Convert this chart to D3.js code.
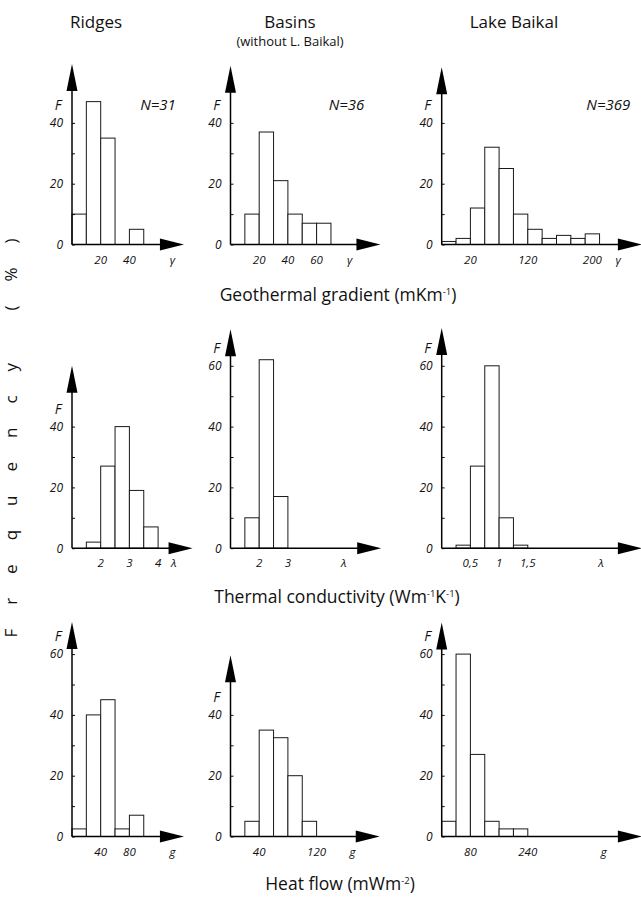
<!DOCTYPE html>
<html>
<head>
<meta charset="utf-8">
<script src="https://cdn.jsdelivr.net/npm/d3@7/dist/d3.min.js"></script>
<style>
  body { margin: 0; background: #fff; }
  svg { display: block; }
  text { font-family: "Open Sans", sans-serif; fill: #111; }
  .it { font-style: italic; }
</style>
</head>
<body>
<svg id="chart" width="641" height="897"></svg>
<script>
// ---- data (frequency, % per bin; bins counted from the axis origin) ----
const columnTitles = ["Ridges", "Basins", "Lake Baikal"];
const basinsNote = "(without L. Baikal)";
const sampleSizes = ["N=31", "N=36", "N=369"];
const rowNames = ["Geothermal gradient", "Thermal conductivity", "Heat flow"];
const rowUnits = [
  [["(mKm"], ["-1", 1], [")"]],
  [["(Wm"], ["-1", 1], ["K"], ["-1", 1], [")"]],
  [["(mWm"], ["-2", 1], [")"]]
];
const rowSymbols = ["γ", "λ", "g"];
const yLabel = "Frequency (%)";

const gradRidges = [10, 47, 35, 0, 5];
const gradBasins = [0, 10, 37, 21, 10, 7, 7];
const gradBaikal = [1, 2, 12, 32, 25, 10, 5, 2, 3, 2, 3.5];
const condRidges = [0, 2, 27, 40, 19, 7];
const condBasins = [0, 10, 62, 17];
const condBaikal = [0, 1, 27, 60, 10, 1];
const flowRidges = [2.5, 40, 45, 2.5, 7];
const flowBasins = [0, 5, 35, 32.5, 20, 5];
const flowBaikal = [5, 60, 27, 5, 2.5, 2.5];

// x tick labels: [bin edge, label]
const gradRidgesTicks = [[2, "20"], [4, "40"]];
const gradBasinsTicks = [[2, "20"], [4, "40"], [6, "60"]];
const gradBaikalTicks = [[2, "20"], [6, "120"], [10.5, "200"]];
const condRidgesTicks = [[2, "2"], [4, "3"], [6, "4"]];
const condBasinsTicks = [[2, "2"], [4, "3"]];
const condBaikalTicks = [[2, "0,5"], [4, "1"], [6, "1,5"]];
const flowRidgesTicks = [[2, "40"], [4, "80"]];
const flowBasinsTicks = [[2, "40"], [6, "120"]];
const flowBaikalTicks = [[2, "80"], [6, "240"]];

// y tick labels (F, %)
const yTicksLow = [0, 20, 40];
const yTicksHigh = [0, 20, 40, 60];

// ---- layout ----
const colX = [72, 230.5, 441.7];
const rowBase = [244.5, 548.2, 836.5];
const binW = 14.35;
const pxPerPct = 3.04;

const panels = [
  { r: 0, c: 0, values: gradRidges, ticks: gradRidgesTicks, yt: yTicksLow, yTop: 59.4, xTip: 7.8, symAt: 7.0 },
  { r: 0, c: 1, values: gradBasins, ticks: gradBasinsTicks, yt: yTicksLow, yTop: 58.8, xTip: 10.45, symAt: 8.3 },
  { r: 0, c: 2, values: gradBaikal, ticks: gradBaikalTicks, yt: yTicksLow, yTop: 58.3, xTip: 13.95, symAt: 12.3 },
  { r: 1, c: 0, values: condRidges, ticks: condRidgesTicks, yt: yTicksLow, yTop: 60, xTip: 8.4, symAt: 7.1 },
  { r: 1, c: 1, values: condBasins, ticks: condBasinsTicks, yt: yTicksHigh, yTop: 72, xTip: 10.5, symAt: 7.9 },
  { r: 1, c: 2, values: condBaikal, ticks: condBaikalTicks, yt: yTicksHigh, yTop: 72.4, xTip: 13.95, symAt: 11.1 },
  { r: 2, c: 0, values: flowRidges, ticks: flowRidgesTicks, yt: yTicksHigh, yTop: 70.6, xTip: 7.8, symAt: 7.0 },
  { r: 2, c: 1, values: flowBasins, ticks: flowBasinsTicks, yt: yTicksLow, yTop: 59.6, xTip: 10.4, symAt: 8.5 },
  { r: 2, c: 2, values: flowBaikal, ticks: flowBaikalTicks, yt: yTicksHigh, yTop: 70.4, xTip: 13.95, symAt: 11.3 }
];

const svg = d3.select("#chart");

// column headers
const headerX = [96, 290, 514];
svg.selectAll("text.col")
  .data(columnTitles)
  .enter().append("text")
  .attr("class", "col")
  .attr("x", (d, i) => headerX[i])
  .attr("y", 28)
  .attr("text-anchor", "middle")
  .attr("font-size", 17)
  .text(d => d);

svg.append("text")
  .attr("x", headerX[1])
  .attr("y", 46)
  .attr("text-anchor", "middle")
  .attr("font-size", 13)
  .text(basinsNote);

// row titles with superscript units
const rowTitleY = [301, 603, 890];
const rowTitleX = [338, 337, 340];
rowNames.forEach((name, i) => {
  const t = svg.append("text")
    .attr("x", rowTitleX[i])
    .attr("y", rowTitleY[i])
    .attr("text-anchor", "middle")
    .attr("font-size", 17.5);
  t.append("tspan").text(name + " ");
  let raised = false;
  rowUnits[i].forEach(part => {
    const s = t.append("tspan").text(part[0]);
    if (part[1]) {
      s.attr("font-size", 9.5).attr("dy", raised ? 0 : -6.5);
      raised = true;
    } else if (raised) {
      s.attr("dy", 6.5);
      raised = false;
    }
  });
});

// vertical label
svg.append("text")
  .attr("transform", "translate(17,426) rotate(-90)")
  .attr("text-anchor", "middle")
  .attr("font-size", 17)
  .attr("letter-spacing", 24)
  .text(yLabel);

// panels
panels.forEach(p => {
  const g = svg.append("g")
    .attr("transform", `translate(${colX[p.c]},${rowBase[p.r]})`);

  const x = d3.scaleLinear().domain([0, 1]).range([0, binW]);
  const y = d3.scaleLinear().domain([0, p.yTop]).range([0, -p.yTop * pxPerPct]);

  // bars
  g.selectAll("rect.bar")
    .data(p.values.map((v, i) => ({ i, v })).filter(d => d.v > 0))
    .enter().append("rect")
    .attr("class", "bar")
    .attr("x", d => x(d.i))
    .attr("width", x(1) - x(0))
    .attr("y", d => y(d.v))
    .attr("height", d => y(0) - y(d.v))
    .attr("fill", "#fff")
    .attr("stroke", "#1a1a1a")
    .attr("stroke-width", 1);

  // y axis ticks + labels
  const maxLab = d3.max(p.yt);
  const yAxis = d3.axisLeft(y)
    .tickValues(d3.range(0, maxLab + 1, 10))
    .tickSizeInner(-3)
    .tickSizeOuter(0)
    .tickPadding(9)
    .tickFormat(d => p.yt.includes(d) ? d : "");
  const ya = g.append("g").call(yAxis);
  ya.select(".domain").remove();
  ya.selectAll("text")
    .attr("class", "it")
    .attr("font-size", 12)
    .attr("font-family", "'Open Sans', sans-serif")
    .attr("fill", "#111");
  ya.selectAll("line").attr("stroke", "#111");

  // y axis line and arrow
  const yTip = y(p.yTop);
  g.append("line")
    .attr("x1", 0).attr("x2", 0)
    .attr("y1", 0).attr("y2", yTip + 20)
    .attr("stroke", "#000").attr("stroke-width", 1.5);
  g.append("path")
    .attr("d", `M0,${yTip} L5.5,${yTip + 27} L-5.5,${yTip + 27} Z`)
    .attr("fill", "#000");

  // x axis line and arrow
  const xTip = x(p.xTip);
  g.append("line")
    .attr("x1", 0).attr("x2", xTip - 18)
    .attr("y1", 0).attr("y2", 0)
    .attr("stroke", "#000").attr("stroke-width", 1.5);
  g.append("path")
    .attr("d", `M${xTip},0 L${xTip - 24},-6 L${xTip - 24},6 Z`)
    .attr("fill", "#000");

  // x tick labels
  g.selectAll("text.xt")
    .data(p.ticks)
    .enter().append("text")
    .attr("class", "xt it")
    .attr("x", d => x(d[0]))
    .attr("y", 19)
    .attr("text-anchor", "middle")
    .attr("font-size", 11.5)
    .text(d => d[1]);

  // variable symbol
  g.append("text")
    .attr("class", "it")
    .attr("x", x(p.symAt))
    .attr("y", 19)
    .attr("text-anchor", "middle")
    .attr("font-size", 11.5)
    .text(rowSymbols[p.r]);

  // F label
  g.append("text")
    .attr("class", "it")
    .attr("x", -14)
    .attr("y", y(maxLab) - 13)
    .attr("text-anchor", "middle")
    .attr("font-size", 14)
    .text("F");

  // sample size (first row)
  if (p.r === 0) {
    g.append("text")
      .attr("class", "it")
      .attr("x", [86, 116, 166.6][p.c])
      .attr("y", -135)
      .attr("text-anchor", "middle")
      .attr("font-size", 15)
      .text(sampleSizes[p.c]);
  }
});
</script>
</body>
</html>
